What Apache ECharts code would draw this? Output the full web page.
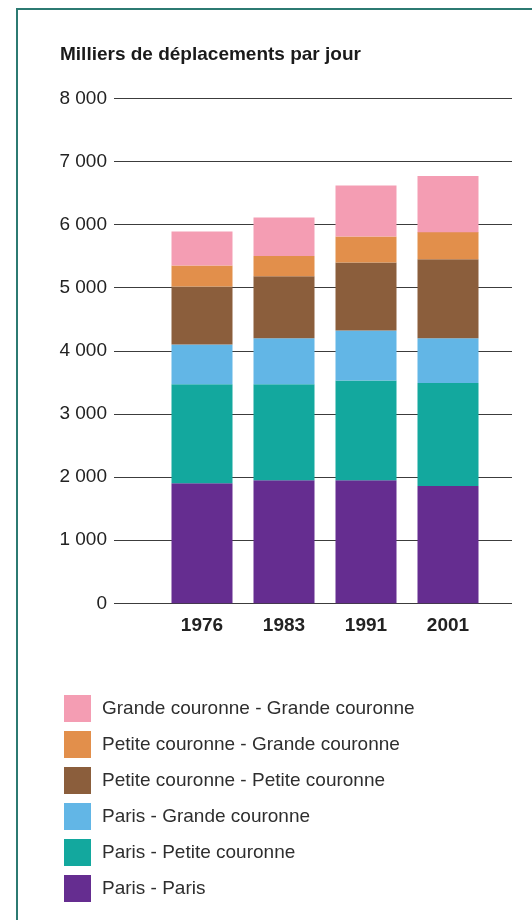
<!DOCTYPE html>
<html>
<head>
<meta charset="utf-8">
<script src="https://cdn.jsdelivr.net/npm/echarts@6/dist/echarts.min.js"></script>
<style>
  html, body { margin: 0; padding: 0; background: #ffffff; }
  #chart { width: 532px; height: 920px; }
</style>
</head>
<body>
<div id="chart"></div>
<script>
// Déplacements quotidiens en Île-de-France (milliers par jour)
const years = ['1976', '1983', '1991', '2001'];

const parisParis = [1900, 1950, 1950, 1860];
const parisPetiteCouronne = [1570, 1520, 1580, 1630];
const parisGrandeCouronne = [630, 730, 790, 710];
const petitePetite = [920, 980, 1080, 1250];
const petiteGrande = [330, 320, 410, 430];
const grandeGrande = [540, 610, 810, 890];

const yTicks = { min: 0, max: 8000, interval: 1000 };

const seriesDefs = [
  { name: 'Paris - Paris', data: parisParis, color: '#652d90' },
  { name: 'Paris - Petite couronne', data: parisPetiteCouronne, color: '#13a89e' },
  { name: 'Paris - Grande couronne', data: parisGrandeCouronne, color: '#62b6e6' },
  { name: 'Petite couronne - Petite couronne', data: petitePetite, color: '#8b5e3c' },
  { name: 'Petite couronne - Grande couronne', data: petiteGrande, color: '#e28f4b' },
  { name: 'Grande couronne - Grande couronne', data: grandeGrande, color: '#f49db3' }
];

const fontFamily = '"Liberation Sans", Arial, Helvetica, sans-serif';

function fmtThousands(v) {
  return String(v).replace(/\B(?=(\d{3})+(?!\d))/g, ' ');
}

const chart = echarts.init(document.getElementById('chart'), null, { renderer: 'canvas' });

chart.setOption({
  animation: false,
  backgroundColor: '#ffffff',
  textStyle: { fontFamily: fontFamily },
  title: {
    text: 'Milliers de déplacements par jour',
    left: 60,
    top: 45,
    padding: 0,
    textStyle: { fontFamily: fontFamily, fontSize: 19, fontWeight: 'bold', color: '#1a1a1a' }
  },
  graphic: [{
    type: 'polyline',
    shape: { points: [[17, 920], [17, 9], [532, 9]] },
    style: { stroke: '#2c7a72', lineWidth: 2, fill: null },
    z: 10
  }],
  legend: {
    orient: 'vertical',
    left: 64,
    top: 695,
    padding: 0,
    itemWidth: 27,
    itemHeight: 27,
    itemGap: 9,
    icon: 'rect',
    selectedMode: false,
    data: seriesDefs.slice().reverse().map(s => s.name),
    textStyle: { fontFamily: fontFamily, fontSize: 19, color: '#2e2e2e', padding: [0, 0, 0, 6] }
  },
  grid: [
    { left: 114, right: 20, top: 98.3, bottom: 316.7 },
    { left: 161, right: 43, top: 98.3, bottom: 316.7 }
  ],
  xAxis: [
    { gridIndex: 0, type: 'value', min: 0, max: 1, show: false },
    {
      gridIndex: 1,
      type: 'category',
      data: years,
      axisLine: { show: false },
      axisTick: { show: false },
      axisLabel: {
        margin: 13,
        fontFamily: fontFamily,
        fontSize: 19,
        fontWeight: 'bold',
        color: '#222222'
      }
    }
  ],
  yAxis: [
    {
      gridIndex: 0,
      type: 'value',
      min: yTicks.min,
      max: yTicks.max,
      interval: yTicks.interval,
      axisLine: { show: false },
      axisTick: { show: false },
      splitLine: { show: true, lineStyle: { color: '#3c3c3c', width: 1 } },
      axisLabel: {
        margin: 7,
        fontFamily: fontFamily,
        fontSize: 19,
        color: '#222222',
        formatter: fmtThousands
      }
    },
    {
      gridIndex: 1,
      type: 'value',
      min: yTicks.min,
      max: yTicks.max,
      interval: yTicks.interval,
      show: false
    }
  ],
  series: seriesDefs.map(s => ({
    name: s.name,
    type: 'bar',
    stack: 'total',
    xAxisIndex: 1,
    yAxisIndex: 1,
    barWidth: 61,
    data: s.data,
    itemStyle: { color: s.color },
    emphasis: { disabled: true }
  }))
});
</script>
</body>
</html>
